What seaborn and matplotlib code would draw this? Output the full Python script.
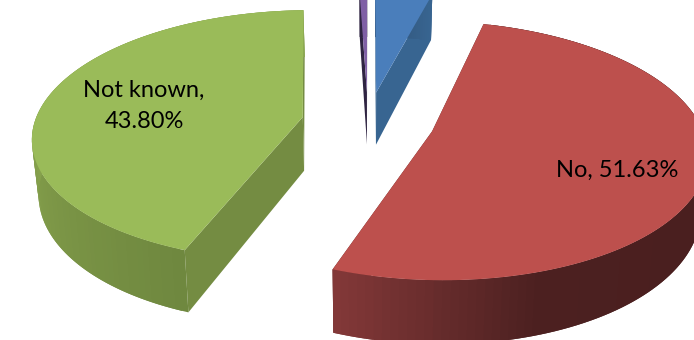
import numpy as np
import matplotlib
matplotlib.use("Agg")
import matplotlib.pyplot as plt
from matplotlib.patches import Polygon
import seaborn as sns

# Shares in percent, listed clockwise starting just left of twelve o'clock
categories = ["Other", "Yes", "No", "Not known"]
values = [0.53, 4.04, 51.63, 43.80]
value_labels = {"No": "No, 51.63%", "Not known": "Not known,\n43.80%"}

top_colors = ["#7f5fa5", "#4a7ebb", "#bd504d", "#9abb59"]
cut_colors = ["#2f2442", "#386591", "#5e2a28", "#748c42"]
# Rim shading stops, ordered along increasing clockwise angle
rim_stops = [
    ["#2f2442", "#2f2442"],
    ["#2f4f72", "#386591"],
    ["#4c2020", "#4a1f1f", "#4a1f1f", "#4a1f1f", "#4c2020", "#823838"],
    ["#6f883f", "#7d9747", "#8aa64f", "#84a04b", "#8aa650"],
]

sns.set_theme(style="white", rc={"axes.facecolor": "white", "figure.facecolor": "white"})
plt.rcParams["font.family"] = ["Lato", "DejaVu Sans"]

START_ANGLE = -1.9
EXPLODE = 0.248
CX, CY = 368.0, 122.0
HALF_W, HALF_H, PERSPECTIVE = 268.0, 124.0, 0.147
THICKNESS = 54.0
DEPTH_PINCH = 0.02


def project(x, y, drop=False):
    """Map disc-plane coordinates to canvas pixels with a tilted perspective."""
    w = 1 + PERSPECTIVE * y
    sx = CX + HALF_W * x / w
    sy = CY - HALF_H * y / w
    if drop:
        # the underside sits lower and converges slightly towards the centre line
        sx = sx + (CX - sx) * DEPTH_PINCH
        sy = sy + THICKNESS / w
    return sx, sy


fig = plt.figure(figsize=(6.94, 3.40), dpi=100)
ax = fig.add_axes([0, 0, 1, 1])
ax.set_xlim(0, 694)
ax.set_ylim(340, 0)
ax.axis("off")

spans = []
angle = START_ANGLE
for v in values:
    sweep = v * 3.6
    spans.append((angle, angle + sweep))
    angle += sweep


def draw_slice(i):
    a0, a1 = spans[i]
    mid = np.radians((a0 + a1) / 2)
    ox, oy = EXPLODE * np.sin(mid), EXPLODE * np.cos(mid)
    th = np.radians(np.linspace(a0, a1, 120))
    px, py = ox + np.sin(th), oy + np.cos(th)
    ax_, ay_ = project(ox, oy)
    bx_, by_ = project(ox, oy, True)
    ux, uy = project(px, py)
    lx, ly = project(px, py, True)

    # Radial cut faces
    for k in (0, -1):
        ax.add_patch(Polygon([(ax_, ay_), (ux[k], uy[k]), (lx[k], ly[k]), (bx_, by_)],
                             closed=True, fc=cut_colors[i], ec="none", zorder=2 + i))
    # Rim, painted as narrow overlapping strips so no seams show
    shades = sns.blend_palette(rim_stops[i], n_colors=len(th) - 1)
    for k in range(len(th) - 1):
        j = min(k + 2, len(th) - 1)
        ax.add_patch(Polygon([(ux[k], uy[k]), (ux[j], uy[j]), (lx[j], ly[j]), (lx[k], ly[k])],
                             closed=True, fc=shades[k], ec="none", zorder=2 + i))
    # Top face
    ax.add_patch(Polygon(np.vstack([[ax_, ay_], np.column_stack([ux, uy])]),
                         closed=True, fc=top_colors[i], ec="none", zorder=2 + i))


for i in range(len(values)):
    draw_slice(i)

ax.text(144, 106, value_labels["Not known"], ha="center", va="center", fontsize=17,
        color="black", linespacing=1.6, zorder=10)
ax.text(617, 170, value_labels["No"], ha="center", va="center", fontsize=17,
        color="black", zorder=10)

fig.savefig("out.png", dpi=100)
